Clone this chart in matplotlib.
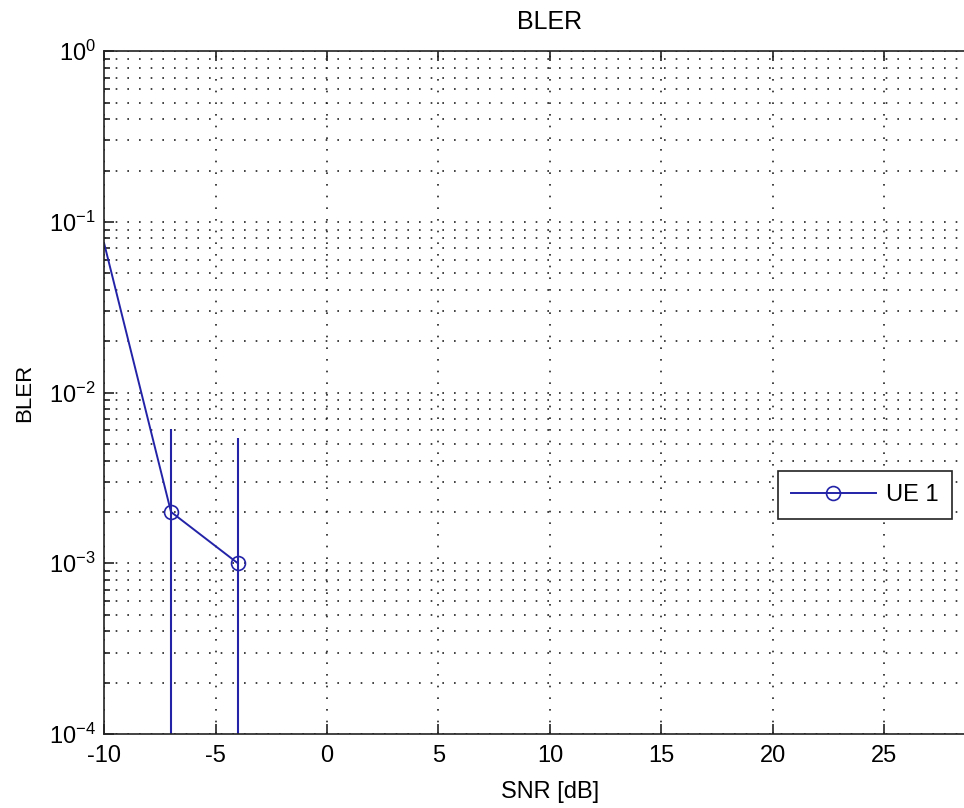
import matplotlib
matplotlib.use('Agg')
import matplotlib.pyplot as plt
from matplotlib.ticker import LogLocator, FixedLocator, NullFormatter

plt.rcParams['font.family'] = ['Liberation Sans', 'DejaVu Sans']
plt.rcParams['mathtext.fontset'] = 'custom'
plt.rcParams['mathtext.rm'] = 'Liberation Sans'
plt.rcParams['axes.unicode_minus'] = False

# Daten
snr = [-10, -7, -4]
bler = [0.075, 0.002, 0.001]
bler_err = [0.0, 0.0041, 0.0044]
label = 'UE 1'
xticks = [-10, -5, 0, 5, 10, 15, 20, 25]

blue = '#2323a8'
ink = '#222222'

fig = plt.figure(figsize=(9.64, 8.08), dpi=100)
ax = fig.add_axes([0.108, 0.0916, 0.925, 0.845])

# Fehlerbalken ohne Marker, Kurve separat fuer die Legende
ax.errorbar(snr, bler, yerr=bler_err, fmt='none', ecolor=blue,
            elinewidth=1.5, capsize=0)
ax.plot(snr, bler, color=blue, linewidth=1.4, marker='o', markersize=10,
        markerfacecolor='none', markeredgecolor=blue, markeredgewidth=1.2,
        markevery=[1, 2], label=label)

ax.set_yscale('log')
ax.set_xlim(-10, 30)
ax.set_ylim(1e-4, 1)
ax.xaxis.set_major_locator(FixedLocator(xticks))
ax.yaxis.set_major_locator(LogLocator(base=10))
ax.yaxis.set_minor_locator(LogLocator(base=10, subs=range(2, 10)))
ax.yaxis.set_minor_formatter(NullFormatter())

dots = (0, (1, 6))
ax.grid(True, which='major', axis='both', color=ink, linestyle=dots, linewidth=1.2)
ax.grid(True, which='minor', axis='y', color=ink, linestyle=dots, linewidth=1.2)

ax.tick_params(which='both', direction='in', top=True, right=True, labelsize=17,
               width=1.2, color=ink)
ax.tick_params(which='major', length=7)
ax.tick_params(which='minor', length=4)
ax.tick_params(axis='x', pad=8)
ax.tick_params(axis='y', pad=6)
for s in ax.spines.values():
    s.set_linewidth(1.2)
    s.set_color(ink)

ax.set_title('BLER', fontsize=18, pad=16)
ax.set_xlabel('SNR [dB]', fontsize=17, labelpad=10)
ax.set_ylabel('BLER', fontsize=16, labelpad=10)

ax.legend(loc='center', bbox_to_anchor=(865 / 964, 1 - 495 / 808),
          bbox_transform=fig.transFigure, fontsize=17, frameon=True,
          fancybox=False, edgecolor=ink, framealpha=1,
          handlelength=3.6, borderpad=0.55, handletextpad=0.45)
ax.get_legend().get_frame().set_linewidth(1.2)

fig.savefig('out.png', dpi=100)
